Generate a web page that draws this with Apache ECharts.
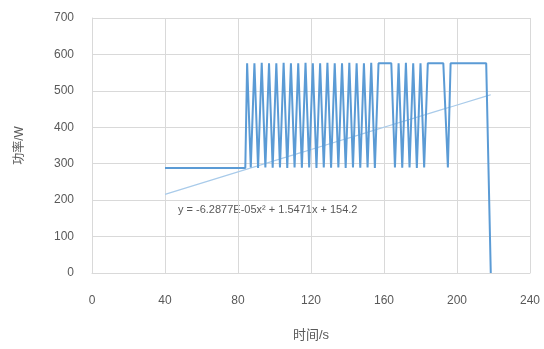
<!DOCTYPE html>
<html>
<head>
<meta charset="utf-8">
<script src="https://cdn.jsdelivr.net/npm/echarts@6/dist/echarts.min.js"></script>
<style>
  html, body { margin: 0; padding: 0; background: #fff; }
  #chart { width: 544px; height: 349px; }
</style>
</head>
<body>
<div id="chart"></div>
<script>
// Power trace over time (time in s, power in W)
const timeS = [
  40, 84, 85, 87, 89, 91, 93, 95, 97, 99, 101, 103, 105, 107, 109, 111,
  113, 115, 117, 119, 121, 123, 125, 127, 129, 131, 133, 135, 137, 139,
  141, 143, 145, 147, 149, 151, 153, 155, 157, 164, 166, 168, 170, 172,
  174, 176, 178, 180, 182, 184, 192.5, 195, 196.5, 216, 218.5
];
const powerW = [
  288, 288, 576, 290, 576, 288, 577, 290, 576, 289, 576, 290, 577, 288, 576, 290,
  576, 289, 577, 290, 576, 288, 576, 290, 577, 289, 576, 290, 576, 288,
  577, 290, 576, 289, 576, 290, 577, 288, 576, 576, 290, 576, 289, 577,
  290, 576, 288, 576, 290, 576, 576, 290, 576, 576, 0
];

// Polynomial trendline coefficients: c2*x^2 + c1*x + c0
const trendCoef = [-6.2877e-05, 1.5471, 154.2];
const trendLabel = 'y = -6.2877E-05x² + 1.5471x + 154.2';

// Axis ticks
const xTicks = [0, 40, 80, 120, 160, 200, 240];
const yTicks = [0, 100, 200, 300, 400, 500, 600, 700];

const xTitle = '时间/s';
const yTitle = '功率/W';

const trendData = timeS.map(t => [t, trendCoef[0] * t * t + trendCoef[1] * t + trendCoef[2]]);
const traceData = timeS.map((t, i) => [t, powerW[i]]);

const labelColor = '#595959';
const gridColor = '#D9D9D9';
const fontFamily = '"Liberation Sans", "Noto Sans CJK SC", sans-serif';

const chart = echarts.init(document.getElementById('chart'), null, { renderer: 'canvas' });
chart.setOption({
  animation: false,
  backgroundColor: '#ffffff',
  grid: { left: 92, right: 14, top: 18, bottom: 76, containLabel: false },
  xAxis: {
    type: 'value',
    min: xTicks[0],
    max: xTicks[xTicks.length - 1],
    interval: xTicks[1] - xTicks[0],
    name: xTitle,
    nameLocation: 'middle',
    nameGap: 56,
    nameTextStyle: { color: labelColor, fontSize: 13, fontFamily },
    axisLine: { show: true, lineStyle: { color: gridColor, width: 1 } },
    axisTick: { show: false },
    axisLabel: { color: labelColor, fontSize: 12, margin: 22, fontFamily },
    splitLine: { show: true, lineStyle: { color: gridColor, width: 1 } }
  },
  yAxis: {
    type: 'value',
    min: yTicks[0],
    max: yTicks[yTicks.length - 1],
    interval: yTicks[1] - yTicks[0],
    name: yTitle,
    nameLocation: 'middle',
    nameGap: 66,
    nameRotate: 90,
    nameTextStyle: { color: labelColor, fontSize: 12, fontFamily },
    axisLine: { show: true, lineStyle: { color: gridColor, width: 1 } },
    axisTick: { show: false },
    axisLabel: { color: labelColor, fontSize: 12, margin: 18, fontFamily },
    splitLine: { show: true, lineStyle: { color: gridColor, width: 1 } }
  },
  series: [
    {
      name: 'trace',
      type: 'line',
      data: traceData,
      symbol: 'none',
      lineStyle: { color: '#5B9BD5', width: 2 },
      z: 3
    },
    {
      name: 'trend',
      type: 'line',
      data: trendData,
      symbol: 'none',
      smooth: false,
      lineStyle: { color: '#A9CBEA', width: 1.2 },
      z: 2
    }
  ],
  graphic: [
    {
      type: 'text',
      left: 178,
      top: 204,
      style: { text: trendLabel, fill: labelColor, fontSize: 11, fontFamily }
    }
  ]
});
</script>
</body>
</html>
